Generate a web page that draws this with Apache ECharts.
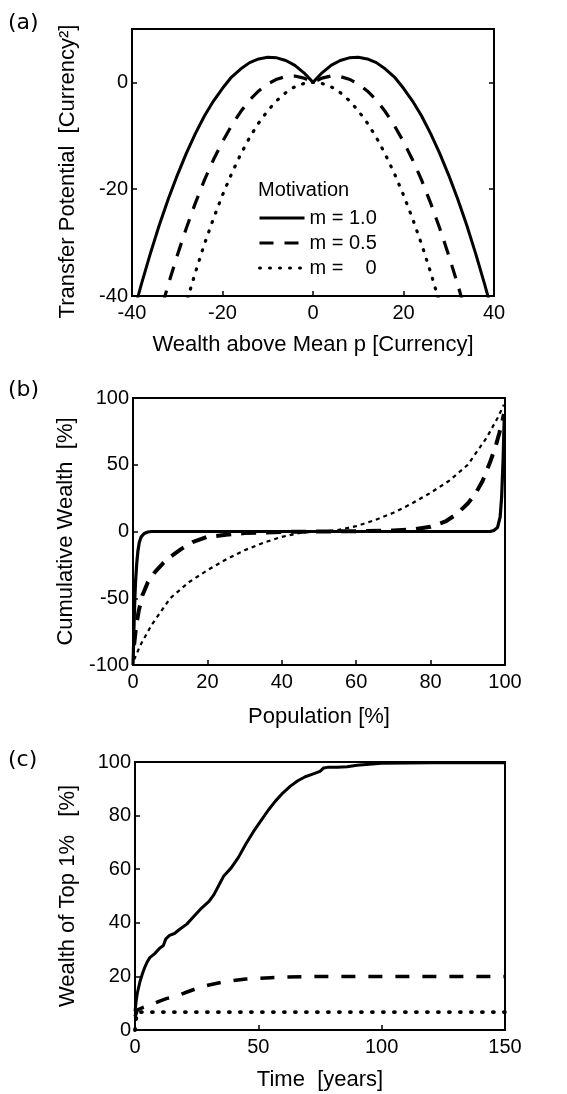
<!DOCTYPE html>
<html>
<head>
<meta charset="utf-8">
<script src="https://cdn.jsdelivr.net/npm/echarts@6/dist/echarts.min.js"></script>
<style>
  html, body { margin: 0; padding: 0; background: #fff; }
  #chart { width: 567px; height: 1094px; }
</style>
</head>
<body>
<div id="chart"></div>
<script>
// (a) transfer potential vs wealth above mean
var wealthX = [-40, -38, -36, -34, -32, -30, -28, -26, -24, -22, -20, -18, -16, -14, -12, -10, -8, -6, -4, -2,
  0, 2, 4, 6, 8, 10, 12, 14, 16, 18, 20, 22, 24, 26, 28, 30, 32, 34, 36, 38, 40];
var potM10 = [-44.2, -38.0, -32.2, -26.8, -21.9, -17.4, -13.3, -9.6, -6.3, -3.5, -1.1, 1.0, 2.5, 3.7, 4.4, 4.7, 4.6, 4.1, 3.2, 1.8,
  0, 1.8, 3.2, 4.1, 4.6, 4.7, 4.4, 3.7, 2.5, 1.0, -1.1, -3.5, -6.3, -9.6, -13.3, -17.4, -21.9, -26.8, -32.2, -38.0, -44.2];
var potM05 = [-64.2, -57.0, -50.2, -43.8, -37.9, -32.4, -27.3, -22.6, -18.3, -14.5, -11.1, -8.1, -5.5, -3.3, -1.6, -0.3, 0.6, 1.1, 1.2, 0.8,
  0, 0.8, 1.2, 1.1, 0.6, -0.3, -1.6, -3.3, -5.5, -8.1, -11.1, -14.5, -18.3, -22.6, -27.3, -32.4, -37.9, -43.8, -50.2, -57.0, -64.2];
var potM00 = [-84.2, -76.0, -68.2, -60.8, -53.9, -47.4, -41.3, -35.6, -30.3, -25.5, -21.1, -17.1, -13.5, -10.3, -7.6, -5.3, -3.4, -1.9, -0.8, -0.2,
  0, -0.2, -0.8, -1.9, -3.4, -5.3, -7.6, -10.3, -13.5, -17.1, -21.1, -25.5, -30.3, -35.6, -41.3, -47.4, -53.9, -60.8, -68.2, -76.0, -84.2];
var legendNames = ['m = 1.0', 'm = 0.5', 'm =    0'];

// (b) cumulative wealth vs population
var popSolid = [0, 0.15, 0.3, 0.5, 0.7, 1, 1.3, 1.7, 2.2, 3, 4, 5, 10, 50, 90, 96, 97, 98, 98.7, 99.1, 99.5, 99.8];
var cumSolid = [-100, -85, -68, -50, -37, -24, -15, -8, -4, -1.5, -0.4, 0, 0, 0, 0, 0, 0.8, 3, 11, 26, 55, 86];
var popDash = [0.3, 0.8, 1.5, 2.5, 4, 6, 8, 10, 13, 16, 20, 25, 30, 40, 50, 60, 70, 75, 80, 84, 87, 90, 92, 94, 96, 97.5, 98.5, 99.3, 99.7];
var cumDash = [-85, -72, -60, -48, -38, -30, -24, -19, -13, -8, -4, -2.5, -1.2, -0.3, 0, 0.2, 0.8, 1.5, 3.5, 7.5, 13, 21, 28, 38, 52, 64, 74, 83, 88];
var popDot = [0.3, 2, 5, 10, 15, 20, 25, 30, 35, 40, 45, 50, 55, 60, 65, 70, 75, 80, 85, 90, 95, 98, 99.7];
var cumDot = [-96, -85, -70, -50, -38, -29, -21, -14, -8.5, -4, -1, 0, 1, 4, 8.5, 14, 21, 29, 38, 50, 70, 85, 95];

// (c) wealth of top 1% vs time
var timeSolid = [0, 0.5, 1, 2, 3, 4, 5, 6, 8, 10, 11.5, 12.5, 14, 16, 18, 21, 24, 27, 30, 32, 34, 36, 39, 42, 45, 48, 51, 54, 57,
  60, 63, 66, 69, 72, 75, 76.5, 78, 82, 86, 90, 95, 100, 110, 120, 150];
var topSolid = [7, 11, 14, 18, 21, 23.5, 25.5, 27, 28.5, 30.5, 31.5, 34, 35.3, 36, 37.5, 39.5, 42.5, 45.5, 48, 50.5, 54, 57.5, 60.5, 64.5, 69.5, 74, 78, 82, 85.5,
  88.5, 91, 93, 94.5, 95.5, 96.5, 97.8, 98, 98, 98.2, 98.8, 99.2, 99.5, 99.6, 99.7, 99.7];
var timeDash = [0, 1, 3, 5, 8, 10, 13, 16, 20, 25, 30, 35, 40, 45, 50, 55, 60, 70, 80, 90, 100, 120, 150];
var topDash = [5, 7.5, 8.3, 9, 10, 10.8, 11.8, 12.3, 13.8, 15.5, 16.8, 17.8, 18.5, 19, 19.3, 19.5, 19.7, 19.9, 20, 20, 20, 20, 20];
var timeDot = [0, 0.8, 3, 150];
var topDot = [0, 6.7, 6.7, 6.7];

function zip(xs, ys) {
  return xs.map(function (x, i) { return [x, ys[i]]; });
}

var sans = '"Liberation Sans", Arial, sans-serif';
var labelStyle = { color: '#000', fontSize: 20, fontFamily: sans };
var titleStyle = { color: '#000', fontSize: 22, fontFamily: sans };

function xAx(gridIndex, min, max, interval, name, gap) {
  return {
    type: 'value', gridIndex: gridIndex, min: min, max: max, interval: interval,
    name: name, nameLocation: 'middle', nameGap: gap, nameTextStyle: titleStyle,
    axisLine: { show: true, onZero: false, lineStyle: { color: '#000', width: 2 } },
    axisTick: { show: true, inside: true, length: 5, lineStyle: { color: '#000', width: 1.5 } },
    axisLabel: Object.assign({ margin: 7 }, labelStyle),
    splitLine: { show: false }
  };
}
function yAx(gridIndex, min, max, interval, name, gap) {
  return {
    type: 'value', gridIndex: gridIndex, min: min, max: max, interval: interval,
    name: name, nameLocation: 'middle', nameGap: gap, nameTextStyle: titleStyle,
    axisLine: { show: true, onZero: false, lineStyle: { color: '#000', width: 2 } },
    axisTick: { show: true, inside: true, length: 5, lineStyle: { color: '#000', width: 1.5 } },
    axisLabel: Object.assign({ margin: 4, showMaxLabel: max % interval === 0 }, labelStyle),
    splitLine: { show: false }
  };
}

var solidStyle = { color: '#000', width: 3, type: 'solid' };
var dashStyle = { color: '#000', width: 3.2, type: [14, 11] };
var dotStyle = { color: '#000', width: 3.2, type: [1, 9], cap: 'round' };

function line(name, x, y, data, style) {
  return {
    name: name, type: 'line', xAxisIndex: x, yAxisIndex: y, data: data,
    showSymbol: false, symbol: 'none', color: '#000', lineStyle: style,
    clip: true, silent: true
  };
}

// mirrored ticks on the right of panel (a)
var rightY = yAx(0, -40, 10, 20, '', 0);
rightY.position = 'right';
rightY.axisLabel.show = false;

var option = {
  animation: false,
  backgroundColor: '#fff',
  grid: [
    { left: 132, top: 29, width: 362, height: 267, show: true, borderColor: '#000', borderWidth: 2 },
    { left: 133, top: 398, width: 372, height: 267, show: true, borderColor: '#000', borderWidth: 2 },
    { left: 135, top: 762, width: 370, height: 268, show: true, borderColor: '#000', borderWidth: 2 }
  ],
  xAxis: [
    xAx(0, -40, 40, 20, 'Wealth above Mean p [Currency]', 38),
    xAx(1, 0, 100, 20, 'Population [%]', 41),
    xAx(2, 0, 150, 50, 'Time  [years]', 39)
  ],
  yAxis: [
    yAx(0, -40, 10, 20, 'Transfer Potential  [Currency²]', 53),
    yAx(1, -100, 100, 50, 'Cumulative Wealth  [%]', 56),
    yAx(2, 0, 100, 20, 'Wealth of Top 1%   [%]', 56),
    rightY
  ],
  legend: {
    data: legendNames,
    orient: 'vertical',
    left: 258,
    top: 208,
    padding: 0,
    itemWidth: 45,
    itemHeight: 20,
    itemGap: 5,
    selectedMode: false,
    itemStyle: { opacity: 0 },
    lineStyle: { width: 3 },
    textStyle: { color: '#000', fontSize: 20, fontFamily: sans }
  },
  graphic: [
    { type: 'text', left: 8, top: 12, style: { text: '(a)', font: '22px "DejaVu Sans"', fill: '#000' } },
    { type: 'text', left: 8, top: 379, style: { text: '(b)', font: '22px "DejaVu Sans"', fill: '#000' } },
    { type: 'text', left: 8, top: 749, style: { text: '(c)', font: '22px "DejaVu Sans"', fill: '#000' } },
    { type: 'text', left: 258, top: 180, style: { text: 'Motivation', font: '20px "Liberation Sans"', fill: '#000' } }
  ],
  series: [
    line(legendNames[0], 0, 0, zip(wealthX, potM10), solidStyle),
    line(legendNames[1], 0, 0, zip(wealthX, potM05), dashStyle),
    line(legendNames[2], 0, 0, zip(wealthX, potM00), dotStyle),

    line('b solid', 1, 1, zip(popSolid, cumSolid), { color: '#000', width: 3.2 }),
    line('b dash', 1, 1, zip(popDash, cumDash), { color: '#000', width: 4, type: [15, 10] }),
    line('b dot', 1, 1, zip(popDot, cumDot), { color: '#000', width: 2.2, type: [4, 4] }),

    line('c solid', 2, 2, zip(timeSolid, topSolid), { color: '#000', width: 3 }),
    line('c dash', 2, 2, zip(timeDash, topDash), { color: '#000', width: 3.5, type: [14, 13] }),
    line('c dot', 2, 2, zip(timeDot, topDot), { color: '#000', width: 3.8, type: [1, 10], cap: 'round' })
  ]
};
// nudge the (a) y title down a bit, as in the picture
option.yAxis[0].nameTextStyle = Object.assign({}, titleStyle, { padding: [0, 0, 0, -18] });

var chart = echarts.init(document.getElementById('chart'));
chart.setOption(option);
</script>
</body>
</html>
